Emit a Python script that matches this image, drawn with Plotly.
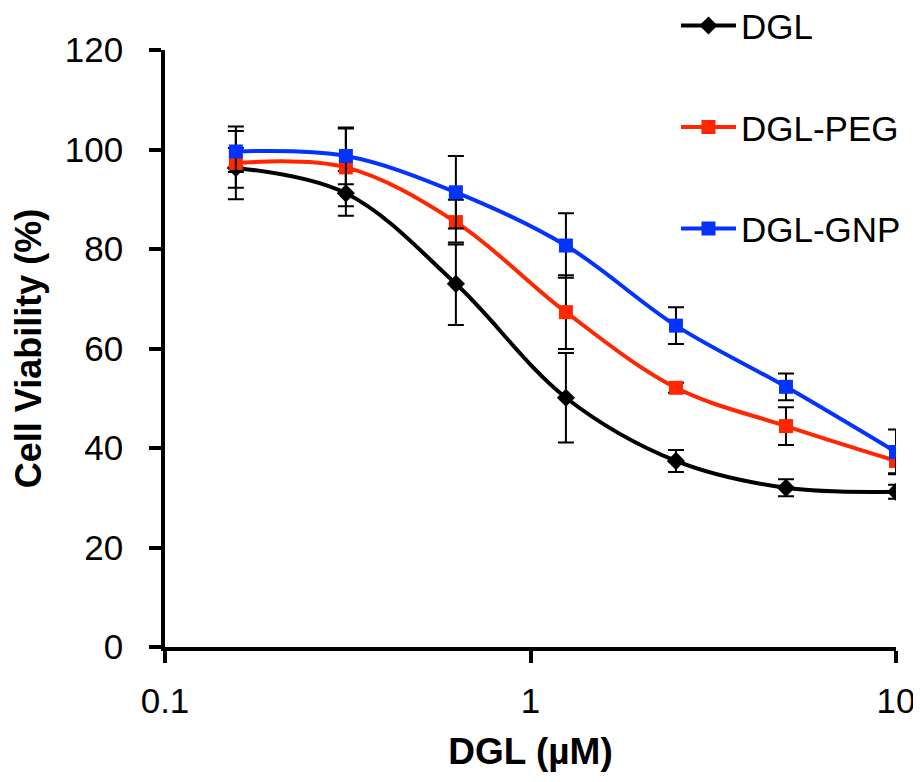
import plotly.graph_objects as go

concentration = [0.15625, 0.3125, 0.625, 1.25, 2.5, 5, 10]
series_names = ["DGL", "DGL-PEG", "DGL-GNP"]
dgl = [96.3, 91.2, 73.0, 50.1, 37.4, 32.0, 31.2]
dgl_err = [4.0, 4.5, 8.3, 9.0, 2.2, 1.7, 1.4]
peg = [97.3, 96.4, 85.4, 67.3, 52.1, 44.4, 37.4]
peg_err = [7.3, 7.8, 4.5, 7.4, 1.0, 3.8, 2.5]
gnp = [99.6, 98.7, 91.4, 80.7, 64.6, 52.3, 39.2]
gnp_err = [4.1, 5.7, 7.3, 6.5, 3.7, 2.7, 4.5]
x_ticks = [0.1, 1, 10]
x_tick_labels = ["0.1", "1", "10"]
y_ticks = [0, 20, 40, 60, 80, 100, 120]

FONT = "Liberation Sans, Arial, sans-serif"
colors = ["#000000", "#FF2600", "#0433FF"]
symbols = ["diamond", "square", "square"]
sizes = [14, 14, 14]
values = [dgl, peg, gnp]
errors = [dgl_err, peg_err, gnp_err]

fig = go.Figure()
for i, name in enumerate(series_names):
    fig.add_trace(go.Scatter(
        x=concentration, y=values[i], name=name, legendgroup=name,
        mode="lines+markers",
        line=dict(color=colors[i], width=4, shape="spline", smoothing=1.0),
        marker=dict(color=colors[i], symbol=symbols[i], size=sizes[i]),
        error_y=dict(type="data", array=errors[i], visible=True,
                     color="black", thickness=2, width=8),
    ))

axis_common = dict(
    showline=True, linecolor="black", linewidth=3.5,
    ticks="outside", tickcolor="black", tickwidth=3.5, ticklen=12,
    showgrid=False, zeroline=False, automargin=False,
    tickfont=dict(family=FONT, size=35, color="black"),
)

fig.update_xaxes(
    type="log", range=[-1, 1], tickvals=x_ticks, ticktext=x_tick_labels,
    ticklabelstandoff=8,
    title=dict(text="<b>DGL (µM)</b>", font=dict(family=FONT, size=37, color="black"), standoff=20),
    **axis_common,
)
fig.update_yaxes(
    range=[0, 120], tickvals=y_ticks, ticklabelstandoff=19,
    title=dict(text="<b>Cell Viability (%)</b>", font=dict(family=FONT, size=36, color="black"), standoff=13),
    **axis_common,
)

fig.update_layout(
    width=921, height=782,
    margin=dict(l=157, r=33, t=42, b=143, autoexpand=False),
    paper_bgcolor="white", plot_bgcolor="white",
    font=dict(family=FONT, color="black"),
    legend=dict(
        x=0.699, y=1.09, xanchor="left", yanchor="top",
        font=dict(family=FONT, size=35, color="black"),
        tracegroupgap=53, itemwidth=55, bgcolor="rgba(0,0,0,0)",
    ),
)

fig.write_html("out.html")
